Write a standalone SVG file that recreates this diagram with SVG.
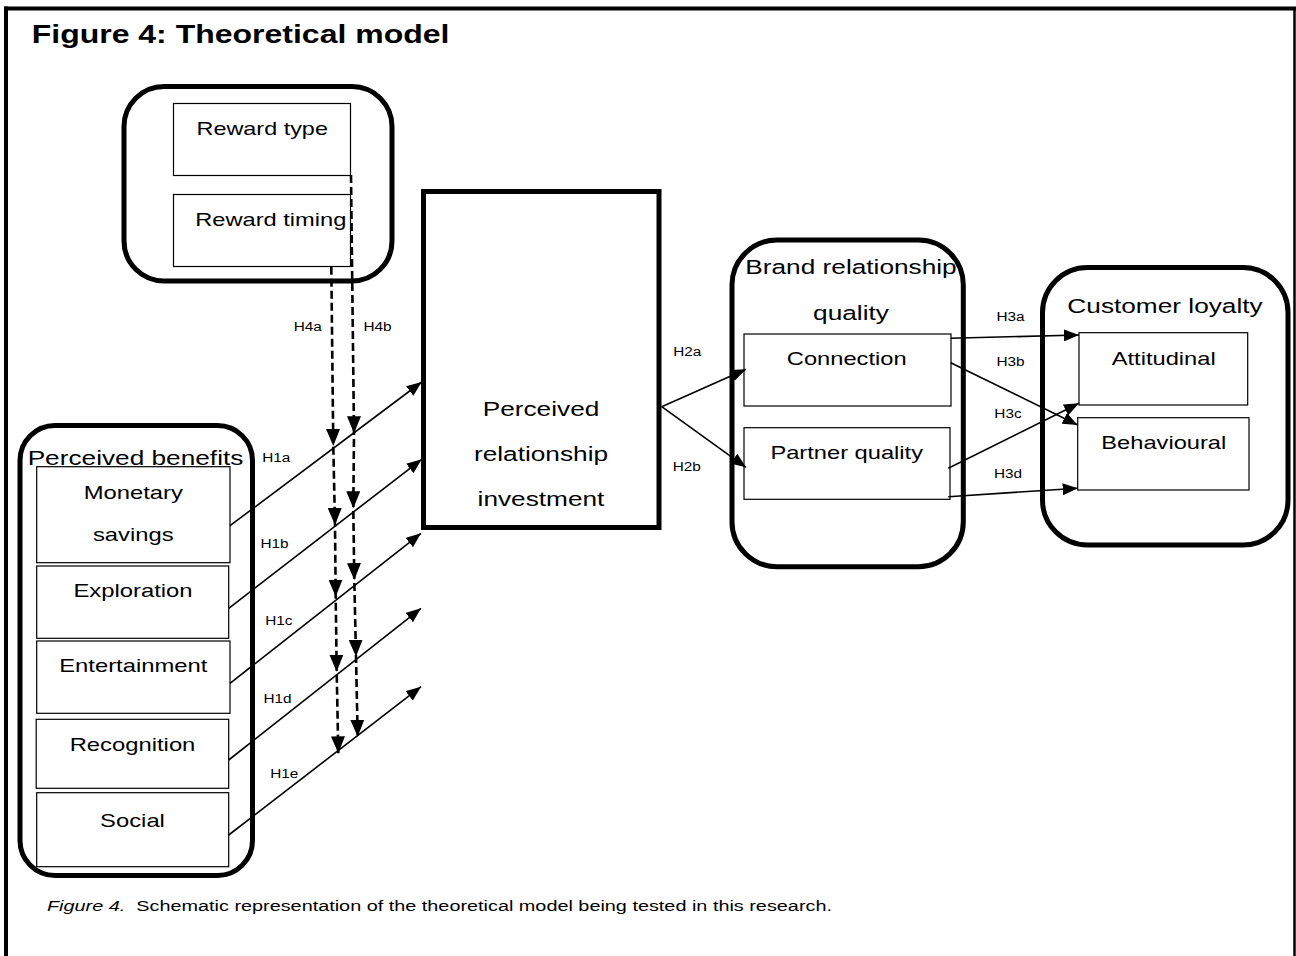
<svg xmlns="http://www.w3.org/2000/svg" width="1296" height="956" viewBox="0 0 1296 956">
<style>
text{font-family:"Liberation Sans",Arial,sans-serif;fill:#000}
.hd{font-size:20.5px;text-anchor:middle}
.lb{font-size:18.6px;text-anchor:middle}
.h{font-size:12px;text-anchor:middle}
.grp{fill:none;stroke:#000;stroke-width:5}
.box{fill:#fff;stroke:#000;stroke-width:1.2}
.cn{stroke:#000;stroke-width:1.6;fill:none}
.ds{stroke:#000;stroke-width:2.6;fill:none;stroke-dasharray:8 4}
</style>
<defs>
<marker id="ah" markerUnits="userSpaceOnUse" markerWidth="15" markerHeight="12" refX="15" refY="6" orient="auto" viewBox="0 0 15 12"><path d="M0,0 L15,6 L0,12 z" fill="#000"/></marker>
<marker id="ahd" markerUnits="userSpaceOnUse" markerWidth="17" markerHeight="14" refX="17" refY="7" orient="auto" viewBox="0 0 17 14"><path d="M0,0 L17,7 L0,14 z" fill="#000"/></marker>
</defs>
<rect width="1296" height="956" fill="#fff"/>
<g id="frame">
<line x1="6" y1="956" x2="6" y2="6.5" stroke="#000" stroke-width="4"/>
<line x1="4" y1="8.5" x2="1296" y2="8.5" stroke="#000" stroke-width="4"/>
<line x1="1294.5" y1="8" x2="1294.5" y2="956" stroke="#000" stroke-width="2.5"/>
</g>
<g id="title"><text transform="translate(31.7,43.3) scale(1.28,1)" style="font-size:25px;font-weight:bold">Figure 4: Theoretical model</text></g>

<g id="reward">
<rect class="grp" x="124" y="86.5" width="268" height="194.5" rx="40"/>
<rect class="box" x="173.5" y="103.5" width="177" height="72"/>
<rect class="box" x="173.5" y="194.5" width="177" height="72"/>
<text class="lb" style="font-size:18.3px" transform="translate(262.2,135) scale(1.28,1)">Reward type</text>
<text class="lb" style="font-size:18.5px" transform="translate(270.8,226) scale(1.28,1)">Reward timing</text>
</g>

<g id="investment">
<rect x="423.5" y="191.5" width="235.5" height="336" fill="#fff" stroke="#000" stroke-width="5"/>
<text class="hd" transform="translate(541,415.5) scale(1.28,1)">Perceived</text>
<text class="hd" transform="translate(541,460.5) scale(1.28,1)">relationship</text>
<text class="hd" transform="translate(541,505.5) scale(1.28,1)">investment</text>
</g>

<g id="benefits">
<rect class="grp" x="20" y="425.5" width="232.5" height="450" rx="35"/>
<text class="hd" transform="translate(135.5,464.5) scale(1.28,1)">Perceived benefits</text>
<rect class="box" x="36.7" y="466.7" width="193.3" height="96"/>
<rect class="box" x="36.7" y="566" width="192" height="72.3"/>
<rect class="box" x="36.7" y="641" width="193.3" height="72.3"/>
<rect class="box" x="36.2" y="719.3" width="192.5" height="69"/>
<rect class="box" x="36.7" y="792.7" width="192" height="74"/>
<text class="lb" transform="translate(133.3,498.5) scale(1.28,1)">Monetary</text>
<text class="lb" transform="translate(133.3,541) scale(1.28,1)">savings</text>
<text class="lb" transform="translate(133,597.3) scale(1.28,1)">Exploration</text>
<text class="lb" transform="translate(133.3,672.3) scale(1.28,1)">Entertainment</text>
<text class="lb" transform="translate(132.5,750.7) scale(1.28,1)">Recognition</text>
<text class="lb" transform="translate(132.5,827) scale(1.28,1)">Social</text>
</g>

<g id="brand">
<rect class="grp" x="732" y="240" width="231.3" height="326.7" rx="45"/>
<text class="hd" transform="translate(851,274) scale(1.28,1)">Brand relationship</text>
<text class="hd" transform="translate(851,320) scale(1.28,1)">quality</text>
<rect class="box" x="744" y="334" width="207" height="72"/>
<rect class="box" x="744" y="427.7" width="206" height="71.6"/>
<text class="lb" style="font-size:18.5px" transform="translate(846.7,365) scale(1.28,1)">Connection</text>
<text class="lb" style="font-size:18.5px" transform="translate(846.7,459) scale(1.28,1)">Partner quality</text>
</g>

<g id="loyalty">
<rect class="grp" x="1042.5" y="267.5" width="245.5" height="277.5" rx="45"/>
<text class="hd" transform="translate(1165,313) scale(1.28,1)">Customer loyalty</text>
<rect class="box" x="1079" y="332.7" width="168.7" height="72.3"/>
<rect class="box" x="1077.7" y="417.7" width="171.3" height="72.3"/>
<text class="lb" style="font-size:18.5px" transform="translate(1163.7,364.5) scale(1.28,1)">Attitudinal</text>
<text class="lb" style="font-size:18.5px" transform="translate(1163.8,448.5) scale(1.28,1)">Behavioural</text>
</g>

<g id="connectors">
<line class="cn" x1="230" y1="525.7" x2="421.7" y2="382" marker-end="url(#ah)"/>
<line class="cn" x1="228.7" y1="608.3" x2="421.7" y2="459.3" marker-end="url(#ah)"/>
<line class="cn" x1="230" y1="683.3" x2="421" y2="533.3" marker-end="url(#ah)"/>
<line class="cn" x1="228.7" y1="760" x2="421" y2="608.3" marker-end="url(#ah)"/>
<line class="cn" x1="228.7" y1="835" x2="421" y2="686.7" marker-end="url(#ah)"/>
<polyline class="ds" points="331.3,266.7 333.3,446 335,525 335.7,596.7 336.7,671.7 338.3,753.3" marker-mid="url(#ahd)" marker-end="url(#ahd)"/>
<polyline class="ds" points="351,175 354,433.3 353.3,508.3 354.3,580 356,656.7 357.7,736.7" marker-mid="url(#ahd)" marker-end="url(#ahd)"/>
<line class="cn" x1="661.7" y1="406.7" x2="746" y2="369.3" marker-end="url(#ah)"/>
<line class="cn" x1="661.7" y1="406.7" x2="746" y2="467.3" marker-end="url(#ah)"/>
<line class="cn" x1="950.7" y1="338.3" x2="1079" y2="335" marker-end="url(#ah)"/>
<line class="cn" x1="950.7" y1="362.7" x2="1077.7" y2="425" marker-end="url(#ah)"/>
<line class="cn" x1="948.3" y1="468.3" x2="1079" y2="403.3" marker-end="url(#ah)"/>
<line class="cn" x1="948.3" y1="496.7" x2="1077.7" y2="488.3" marker-end="url(#ah)"/>
</g>

<g id="labels">
<text class="h" transform="translate(307.8,330.7) scale(1.28,1)">H4a</text>
<text class="h" transform="translate(377.5,330.7) scale(1.28,1)">H4b</text>
<text class="h" transform="translate(276.3,461.7) scale(1.28,1)">H1a</text>
<text class="h" transform="translate(274.5,548.3) scale(1.28,1)">H1b</text>
<text class="h" transform="translate(278.8,625) scale(1.28,1)">H1c</text>
<text class="h" transform="translate(277.5,703.3) scale(1.28,1)">H1d</text>
<text class="h" transform="translate(284.2,778.3) scale(1.28,1)">H1e</text>
<text class="h" transform="translate(687.2,356) scale(1.28,1)">H2a</text>
<text class="h" transform="translate(686.8,470.7) scale(1.28,1)">H2b</text>
<text class="h" transform="translate(1010.5,321) scale(1.28,1)">H3a</text>
<text class="h" transform="translate(1010.5,366) scale(1.28,1)">H3b</text>
<text class="h" transform="translate(1008,418.3) scale(1.28,1)">H3c</text>
<text class="h" transform="translate(1008,478.3) scale(1.28,1)">H3d</text>
</g>

<g id="caption"><text transform="translate(47,911) scale(1.28,1)" style="font-size:15.5px"><tspan style="font-style:italic">Figure 4.</tspan><tspan dx="8.6">Schematic representation of the theoretical model being tested in this research.</tspan></text></g>
</svg>
